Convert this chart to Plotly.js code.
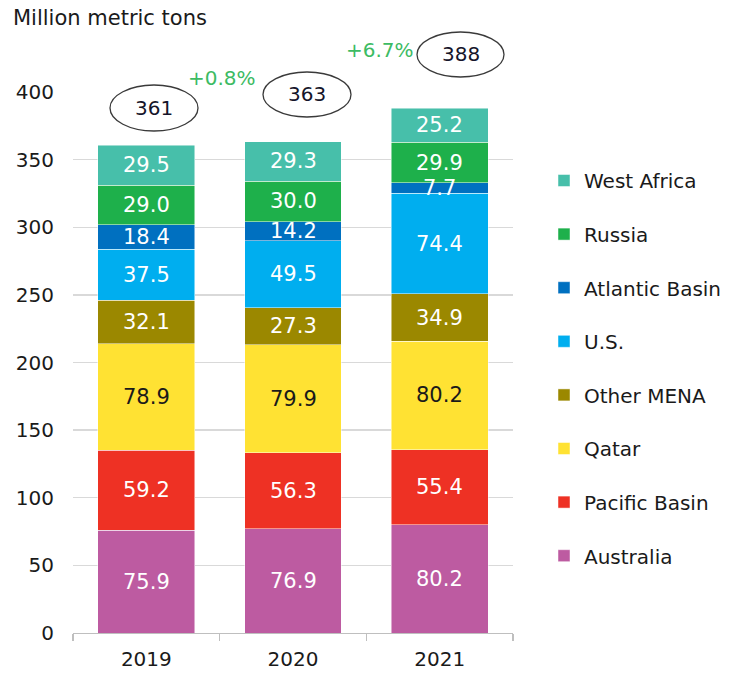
<!DOCTYPE html>
<html>
<head>
<meta charset="utf-8">
<script src="https://cdn.plot.ly/plotly-3.0.1.min.js"></script>
<style>html,body{margin:0;padding:0;background:#fff}#chart{width:732px;height:673px}</style>
</head>
<body>
<div id="chart"></div>
<script>
const years = ['2019', '2020', '2021'];
const seriesNames = ['Australia', 'Pacific Basin', 'Qatar', 'Other MENA', 'U.S.', 'Atlantic Basin', 'Russia', 'West Africa'];
const australia = [75.9, 76.9, 80.2];
const pacificBasin = [59.2, 56.3, 55.4];
const qatar = [78.9, 79.9, 80.2];
const otherMena = [32.1, 27.3, 34.9];
const us = [37.5, 49.5, 74.4];
const atlanticBasin = [18.4, 14.2, 7.7];
const russia = [29.0, 30.0, 29.9];
const westAfrica = [29.5, 29.3, 25.2];
const totals = [361, 363, 388];
const growth = ['+0.8%', '+6.7%'];
const yTicks = [0, 50, 100, 150, 200, 250, 300, 350, 400];

const values = [australia, pacificBasin, qatar, otherMena, us, atlanticBasin, russia, westAfrica];
const colors = ['#bd5ba1', '#ee3124', '#ffe233', '#9b8800', '#00aeef', '#0070c0', '#1eb04b', '#47bfaa'];
const textColors = ['#ffffff', '#ffffff', '#1a1a1a', '#ffffff', '#ffffff', '#ffffff', '#ffffff', '#ffffff'];

const FONT = 'DejaVu Sans, Verdana, sans-serif';
const W = 732, H = 673;
const L = 73, R = 219, T = 92, B = 40;
const PW = W - L - R, PH = H - T - B;
const px = x => (x - L) / PW;
const py = y => (H - B - y) / PH;

const traces = seriesNames.map((name, i) => ({
  type: 'bar',
  name: name,
  x: years,
  y: values[i],
  marker: {color: colors[i], line: {color: 'rgba(255,255,255,0.6)', width: 0.8}},
  hoverinfo: 'skip',
  legendgroup: 'g' + i,
  legendrank: 100 - i
}));

const annotations = [];
// segment value labels, placed at the middle of each stacked segment
// (category axis: annotation x is the category's serial index)
years.forEach((yr, j) => {
  let base = 0;
  values.forEach((arr, i) => {
    const v = arr[j];
    annotations.push({xref: 'x', yref: 'y', x: j, y: base + v / 2,
      xanchor: 'center', yanchor: 'middle', text: v.toFixed(1), showarrow: false,
      font: {family: FONT, size: 21, color: textColors[i]}});
    base += v;
  });
});

const ellipses = [
  {x0: 110, x1: 198, y0: 131, y1: 85},
  {x0: 263, x1: 351, y0: 117, y1: 72},
  {x0: 417, x1: 504, y0: 77, y1: 32}
];

const shapes = ellipses.map(e => ({
  type: 'circle', xref: 'paper', yref: 'paper',
  x0: px(e.x0), x1: px(e.x1), y0: py(e.y0), y1: py(e.y1),
  line: {color: '#3a3a3a', width: 1.3}, fillcolor: 'rgba(0,0,0,0)'
}));

annotations.push({xref: 'paper', yref: 'paper', x: px(11), y: py(18), xanchor: 'left', yanchor: 'middle',
  text: 'Million metric tons', showarrow: false, font: {family: FONT, size: 21, color: '#1a1a1a'}});
totals.forEach((t, i) => {
  const e = ellipses[i];
  annotations.push({xref: 'paper', yref: 'paper', x: px((e.x0 + e.x1) / 2), y: py((e.y0 + e.y1) / 2),
    xanchor: 'center', yanchor: 'middle', text: String(t), showarrow: false,
    font: {family: FONT, size: 20, color: '#15152a'}});
});
const growthPos = [[222, 78], [380, 50]];
growth.forEach((g, i) => {
  annotations.push({xref: 'paper', yref: 'paper', x: px(growthPos[i][0]), y: py(growthPos[i][1]),
    xanchor: 'center', yanchor: 'middle', text: g, showarrow: false,
    font: {family: FONT, size: 20, color: '#3dbb63'}});
});

const layout = {
  width: W, height: H,
  margin: {l: L, r: R, t: T, b: B, pad: 0},
  paper_bgcolor: '#ffffff', plot_bgcolor: '#ffffff',
  barmode: 'stack',
  bargap: 0.34,
  font: {family: FONT, size: 20, color: '#1a1a1a'},
  showlegend: true,
  legend: {
    traceorder: 'grouped',
    xref: 'container', yref: 'container',
    x: 544 / W, y: 1 - 161 / H, xanchor: 'left', yanchor: 'top',
    maxheight: 640,
    font: {family: FONT, size: 20, color: '#1a1a1a'},
    tracegroupgap: 24.6,
    itemclick: false, itemdoubleclick: false,
    bgcolor: 'rgba(0,0,0,0)'
  },
  xaxis: {
    type: 'category',
    showgrid: false,
    showline: true, linecolor: '#bfbfbf', linewidth: 1.3,
    ticks: 'outside', tickson: 'boundaries', ticklen: 7, tickcolor: '#bfbfbf', tickwidth: 1.3,
    ticklabelstandoff: 8,
    tickfont: {family: FONT, size: 20, color: '#1a1a1a'},
    fixedrange: true
  },
  yaxis: {
    range: [0, 400],
    tickvals: yTicks,
    ticktext: yTicks.map(String),
    showgrid: true, gridcolor: '#d9d9d9', gridwidth: 1.3,
    zeroline: false, showline: false, ticks: '',
    ticklabelstandoff: 18,
    tickfont: {family: FONT, size: 20, color: '#1a1a1a'},
    fixedrange: true
  },
  shapes: shapes,
  annotations: annotations
};

Plotly.newPlot('chart', traces, layout, {displayModeBar: false, staticPlot: true});
</script>
</body>
</html>
